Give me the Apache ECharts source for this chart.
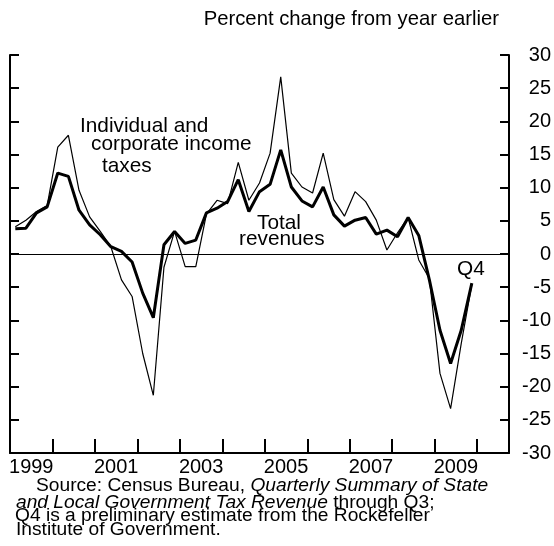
<!DOCTYPE html>
<html>
<head>
<meta charset="utf-8">
<script src="https://cdn.jsdelivr.net/npm/echarts@6/dist/echarts.min.js"></script>
<style>
html,body{margin:0;padding:0;background:#fff;}
#c{width:554px;height:546px;}
</style>
</head>
<body>
<div id="c"></div>
<script>
// Quarterly data, 1999 Q1 .. 2009 Q4
const startYear = 1999;
const yearTicks = [1999, 2001, 2003, 2005, 2007, 2009];
const totalRevenues = [3.8, 3.9, 6.2, 7.1, 12.2, 11.7, 6.6, 4.4, 2.9, 1.1, 0.4, -1.2, -5.9, -9.6, 1.4, 3.4, 1.6, 2.1, 6.2, 6.9, 7.9, 11.2, 6.4, 9.4, 10.5, 15.7, 10.1, 8.0, 7.1, 10.1, 5.9, 4.2, 5.1, 5.5, 3.0, 3.6, 2.6, 5.5, 2.8, -3.9, -11.5, -16.5, -11.5, -4.4];
const incomeTaxes = [4.1, 5.1, 6.4, 7.3, 16.1, 17.9, 9.6, 5.6, 3.4, 1.1, -3.9, -6.4, -15.0, -21.3, -2.0, 3.4, -1.9, -1.9, 6.0, 8.1, 7.6, 13.8, 8.1, 10.7, 15.2, 26.7, 12.2, 10.1, 9.2, 15.2, 8.2, 5.7, 9.4, 7.9, 5.1, 0.6, 3.2, 5.5, -0.9, -3.7, -18.0, -23.3, -13.5, -4.6];

function quarterPoints(vals) {
  return vals.map((v, i) => [startYear + (i + 0.5) / 4, v]);
}

const FF = '"Liberation Sans", Arial, Helvetica, sans-serif';
const chart = echarts.init(document.getElementById('c'), null, {renderer: 'canvas'});

function txt(text, pos, size, rich) {
  return Object.assign({
    text: text,
    padding: 0,
    itemGap: 0,
    textStyle: {
      fontFamily: FF, fontSize: size || 20, fontWeight: 'normal', color: '#000',
      lineHeight: 20, rich: rich
    }
  }, pos);
}
const srcRich = {
  n: {fontFamily: FF, fontSize: 19.2, color: '#000', lineHeight: 20},
  i: {fontFamily: FF, fontSize: 19.2, color: '#000', fontStyle: 'italic', lineHeight: 20}
};

const axisLineStyle = {color: '#000', width: 2};

chart.setOption({
  animation: false,
  backgroundColor: '#fff',
  title: [
    txt('Percent change from year earlier', {right: 55, top: 9.5}, 20.3),
    txt('Individual and', {left: 80, top: 116.7}, 20.8),
    txt('corporate income', {left: 91, top: 134}, 20.8),
    txt('taxes', {left: 102, top: 156}, 20.8),
    txt('Total', {left: 257, top: 213.5}, 20.8),
    txt('revenues', {left: 239, top: 229.5}, 20.8),
    txt('Q4', {left: 457, top: 259}, 20.8),
    txt('{n|Source: Census Bureau, }{i|Quarterly Summary of State}', {left: 36, top: 476}, 19.2, srcRich),
    txt('{i|and Local Government Tax Revenue}{n| through Q3;}', {left: 16, top: 492.5}, 19.2, srcRich),
    txt('{n|Q4 is a preliminary estimate from the Rockefeller}', {left: 15, top: 506}, 19.2, srcRich),
    txt('{n|Institute of Government.}', {left: 16, top: 520}, 19.2, srcRich)
  ],
  grid: {left: 10, right: 45, top: 55, bottom: 93, containLabel: false},
  xAxis: {
    type: 'value', min: 1999, max: 2010.75, interval: 1,
    axisLine: {show: true, onZero: false, lineStyle: axisLineStyle},
    axisTick: {show: true, inside: true, length: 14, lineStyle: axisLineStyle},
    splitLine: {show: false},
    axisLabel: {
      show: true, margin: 4, fontFamily: FF, fontSize: 20, color: '#000',
      padding: [0, 0, 0, 42.5], align: 'center',
      formatter: v => yearTicks.indexOf(v) >= 0 ? String(v) : ''
    }
  },
  yAxis: [
    {
      type: 'value', position: 'right', min: -30, max: 30, interval: 5,
      axisLine: {show: true, onZero: false, lineStyle: axisLineStyle},
      axisTick: {show: true, inside: true, length: 9, lineStyle: axisLineStyle},
      splitLine: {show: false},
      axisLabel: {show: true, align: 'right', margin: 42, fontFamily: FF, fontSize: 20, color: '#000'}
    },
    {
      type: 'value', position: 'left', min: -30, max: 30, interval: 5,
      axisLine: {show: true, onZero: false, lineStyle: axisLineStyle},
      axisTick: {show: true, inside: true, length: 9, lineStyle: axisLineStyle},
      splitLine: {show: false},
      axisLabel: {show: false}
    }
  ],
  series: [
    {
      name: 'Individual and corporate income taxes', type: 'line', yAxisIndex: 0,
      data: quarterPoints(incomeTaxes), showSymbol: false, symbol: 'none',
      lineStyle: {color: '#000', width: 1.2}, z: 2,
      markLine: {
        silent: true, symbol: ['none', 'none'], label: {show: false},
        lineStyle: {color: '#000', width: 1, type: 'solid'},
        data: [{yAxis: 0}]
      }
    },
    {
      name: 'Total revenues', type: 'line', yAxisIndex: 0,
      data: quarterPoints(totalRevenues), showSymbol: false, symbol: 'none',
      lineStyle: {color: '#000', width: 3}, z: 3
    }
  ]
});
</script>
</body>
</html>
